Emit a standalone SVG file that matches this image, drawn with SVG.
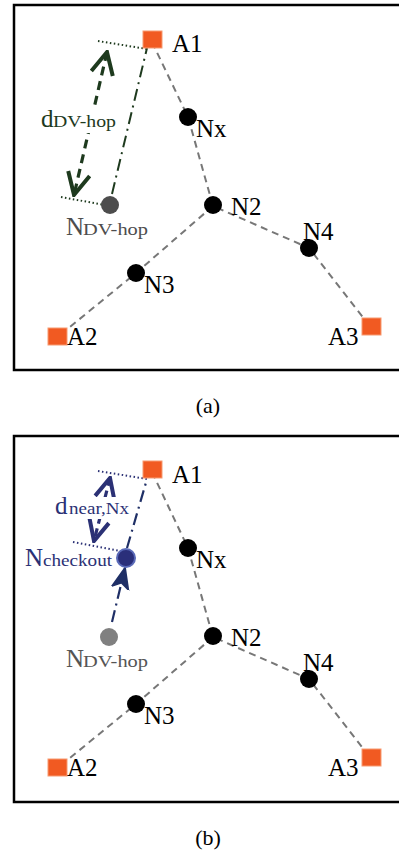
<svg xmlns="http://www.w3.org/2000/svg" width="399" height="854" viewBox="0 0 399 854">
<style>
.frame{fill:none;stroke:#000;stroke-width:2.5}
.anchor{fill:#f15a22;stroke:#f79a70;stroke-width:1}
.node{fill:#000}
.lbl{font-family:"Liberation Serif",serif;font-size:25px;fill:#000}
.sub{font-family:"Liberation Serif",serif;font-size:17px}
.cap{font-family:"Liberation Serif",serif;font-size:22px;fill:#000;text-anchor:middle}
.bg{fill:#fff}
.hop{fill:none;stroke:#777;stroke-width:2;stroke-dasharray:7 5}
.gdot{fill:none;stroke:#1e3a1e;stroke-width:2;stroke-dasharray:1.5 2.5}
.gdd{fill:none;stroke:#1e3a1e;stroke-width:2;stroke-dasharray:12 5 2 5}
.gdash{fill:none;stroke:#1e3a1e;stroke-width:3.2;stroke-dasharray:9 6}
.bdot{fill:none;stroke:#2b3175;stroke-width:2;stroke-dasharray:1.5 2.5}
.bdd{fill:none;stroke:#1f2f66;stroke-width:2.2;stroke-dasharray:12 5 2 5}
.bdash{fill:none;stroke:#2b3175;stroke-width:3.2;stroke-dasharray:8 5}
.green{fill:#1e3a1e}
.navy{fill:#2b3175}
</style>
<defs>
<marker id="chevG" markerUnits="userSpaceOnUse" viewBox="0 0 26 26" refX="24" refY="13" markerWidth="26" markerHeight="26" orient="auto-start-reverse">
<path d="M2,2 L24,13 L2,24" fill="none" stroke="#1e3a1e" stroke-width="4"/>
</marker>
<marker id="chevB" markerUnits="userSpaceOnUse" viewBox="0 0 26 26" refX="24" refY="13" markerWidth="26" markerHeight="26" orient="auto-start-reverse">
<path d="M3,3 L24,13 L3,23" fill="none" stroke="#2b3175" stroke-width="4"/>
</marker>
<marker id="arrB" markerUnits="userSpaceOnUse" viewBox="0 0 22 22" refX="21" refY="11" markerWidth="22" markerHeight="22" orient="auto">
<path d="M1,3 L21,11 L1,19 L6,11 Z" fill="#1f2f66" stroke="#1f2f66" stroke-width="2"/>
</marker>
</defs>

<!-- Panel (a) -->
<rect class="frame" x="14" y="5" width="400" height="365"/>
<g id="a-connectors">
<polyline class="hop" points="152,42 188,117 213,206 309,248 369,325"/>
<polyline class="hop" points="213,206 136,273 60,335"/>
<line class="gdot" x1="98" y1="41" x2="147" y2="49"/>
<line class="gdot" x1="61" y1="197" x2="110" y2="206"/>
<line class="gdd" x1="112" y1="194" x2="147" y2="48"/>
<line class="gdash" x1="107" y1="52" x2="74" y2="195" marker-start="url(#chevG)" marker-end="url(#chevG)"/>
</g>
<g id="a-A1"><rect class="anchor" x="143" y="31" width="19" height="17"/><text class="lbl" x="172" y="52">A1</text></g>
<g id="a-A2"><rect class="anchor" x="48" y="328" width="19" height="17"/><text class="lbl" x="67" y="345">A2</text></g>
<g id="a-A3"><rect class="anchor" x="362" y="318" width="19" height="17"/><text class="lbl" x="328" y="345">A3</text></g>
<g id="a-Nx"><circle class="node" cx="188" cy="117" r="9"/><text class="lbl" x="196" y="137">Nx</text></g>
<g id="a-N2"><circle class="node" cx="213" cy="205" r="9"/><text class="lbl" x="231" y="215">N2</text></g>
<g id="a-N3"><circle class="node" cx="136" cy="273" r="9"/><text class="lbl" x="144" y="293">N3</text></g>
<g id="a-N4"><circle class="node" cx="309" cy="248" r="9"/><text class="lbl" x="303" y="240">N4</text></g>
<g id="a-NDV"><circle cx="110" cy="205" r="9" fill="#4d4d4d"/><text class="lbl" x="66" y="235" style="fill:#4d4d4d">N</text><text class="sub" x="83" y="235" textLength="65" lengthAdjust="spacingAndGlyphs" style="fill:#4d4d4d">DV-hop</text></g>
<g id="a-dDV"><rect class="bg" x="40" y="109" width="78" height="24"/><text class="lbl green" x="41" y="127">d</text><text class="sub green" x="53" y="127" textLength="63" lengthAdjust="spacingAndGlyphs">DV-hop</text></g>
<text class="cap" x="208" y="413">(a)</text>

<!-- Panel (b) -->
<rect class="frame" x="14" y="436" width="400" height="366"/>
<g id="b-connectors">
<polyline class="hop" points="152,472 188,548 213,637 309,679 369,756"/>
<polyline class="hop" points="213,637 136,704 60,766"/>
<line class="bdot" x1="98" y1="471" x2="147" y2="479"/>
<line class="bdot" x1="73" y1="542" x2="125" y2="552"/>
<line class="bdd" x1="127" y1="548" x2="147" y2="479"/>
<line class="bdd" x1="112" y1="622" x2="125" y2="568" marker-end="url(#arrB)"/>
<line class="bdash" x1="110" y1="478" x2="94" y2="541" marker-start="url(#chevB)" marker-end="url(#chevB)"/>
</g>
<g id="b-A1"><rect class="anchor" x="143" y="461" width="19" height="17"/><text class="lbl" x="172" y="483">A1</text></g>
<g id="b-A2"><rect class="anchor" x="48" y="759" width="19" height="17"/><text class="lbl" x="67" y="776">A2</text></g>
<g id="b-A3"><rect class="anchor" x="362" y="749" width="19" height="17"/><text class="lbl" x="328" y="776">A3</text></g>
<g id="b-Nx"><circle class="node" cx="188" cy="548" r="9"/><text class="lbl" x="196" y="568">Nx</text></g>
<g id="b-N2"><circle class="node" cx="213" cy="636" r="9"/><text class="lbl" x="231" y="646">N2</text></g>
<g id="b-N3"><circle class="node" cx="136" cy="704" r="9"/><text class="lbl" x="144" y="724">N3</text></g>
<g id="b-N4"><circle class="node" cx="309" cy="679" r="9"/><text class="lbl" x="303" y="671">N4</text></g>
<g id="b-NDV"><circle cx="109" cy="637" r="9" fill="#808080"/><text class="lbl" x="66" y="667" style="fill:#555">N</text><text class="sub" x="83" y="667" textLength="65" lengthAdjust="spacingAndGlyphs" style="fill:#555">DV-hop</text></g>
<g id="b-Ncheckout"><circle cx="126" cy="558" r="9" fill="#2a2f7a" stroke="#5a6ab8" stroke-width="2"/><text class="lbl navy" x="25" y="566">N</text><text class="sub navy" x="43" y="566" textLength="69" lengthAdjust="spacingAndGlyphs">checkout</text></g>
<g id="b-dnear"><rect class="bg" x="54" y="497" width="76" height="22"/><text class="lbl navy" x="55" y="514">d</text><text class="sub navy" x="69" y="514" textLength="60" lengthAdjust="spacingAndGlyphs">near,Nx</text></g>
<text class="cap" x="208" y="845">(b)</text>
</svg>
